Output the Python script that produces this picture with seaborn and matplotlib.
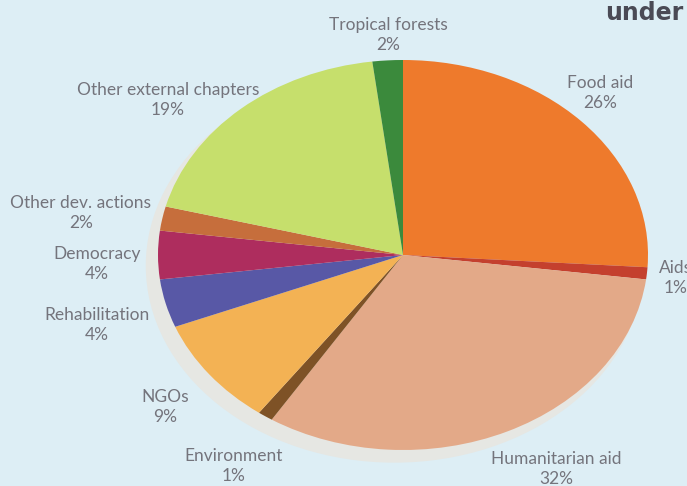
import matplotlib
matplotlib.use("Agg")
import matplotlib.pyplot as plt
from matplotlib.patches import Ellipse
import seaborn as sns

# Budget shares by chapter (percent), clockwise from 12 o'clock
categories = ["Food aid", "Aids", "Humanitarian aid", "Environment", "NGOs",
              "Rehabilitation", "Democracy", "Other dev. actions",
              "Other external chapters", "Tropical forests"]
shares = [26, 1, 32, 1, 9, 4, 4, 2, 19, 2]
tick_labels = [f"{v}%" for v in shares]
colors = ["#EE7A2C", "#C4402E", "#E3A988", "#7E5226", "#F3B254",
          "#5858A6", "#AE2D5E", "#C66E3C", "#C6DF6C", "#3B8A3C"]

sns.set_theme(style="white")
plt.rcParams["font.family"] = ["Lato", "DejaVu Sans"]

W, H = 687, 486
fig = plt.figure(figsize=(W / 100, H / 100), dpi=100)
bg = "#DDEEF5"
fig.patch.set_facecolor(bg)

# Pie centre / radii in pixels; axes limits chosen so that radius 1 maps onto them
cx, cy, rx, ry = 403, 255, 245, 195
ax = fig.add_axes([0, 0, 1, 1])
ax.set_facecolor(bg)

# soft pale rim behind the pie
ax.add_patch(Ellipse((-0.035, -0.055), 2.03, 2.02, facecolor="#E6E7E3",
                     edgecolor="none", zorder=0))

ax.pie(shares, colors=sns.color_palette(colors), startangle=90,
       counterclock=False, radius=1,
       wedgeprops=dict(linewidth=0, antialiased=True))
ax.set_aspect("auto")
ax.set_xlim(-cx / rx, (W - cx) / rx)
ax.set_ylim((cy - H) / ry, cy / ry)
ax.axis("off")

txt_color = "#74747C"
label_pos = {
    "Food aid": (600, 93),
    "Aids": (676, 278),
    "Humanitarian aid": (556, 469),
    "Environment": (234, 466),
    "NGOs": (165, 407),
    "Rehabilitation": (97, 325),
    "Democracy": (97, 264),
    "Other dev. actions": (81, 213),
    "Other external chapters": (168, 100),
    "Tropical forests": (388, 35),
}
for name, pct in zip(categories, tick_labels):
    x, y = label_pos[name]
    fig.text(x / W, 1 - y / H, f"{name}\n{pct}", ha="center", va="center",
             fontsize=12.5, color=txt_color, fontweight="normal",
             linespacing=1.3)

fig.text(605 / W, 1 - 13 / H, "under", ha="left", va="center", fontsize=17,
         fontweight="bold", color="#4A4A55", family="DejaVu Sans")

fig.savefig("out.png", dpi=100, facecolor=bg)
